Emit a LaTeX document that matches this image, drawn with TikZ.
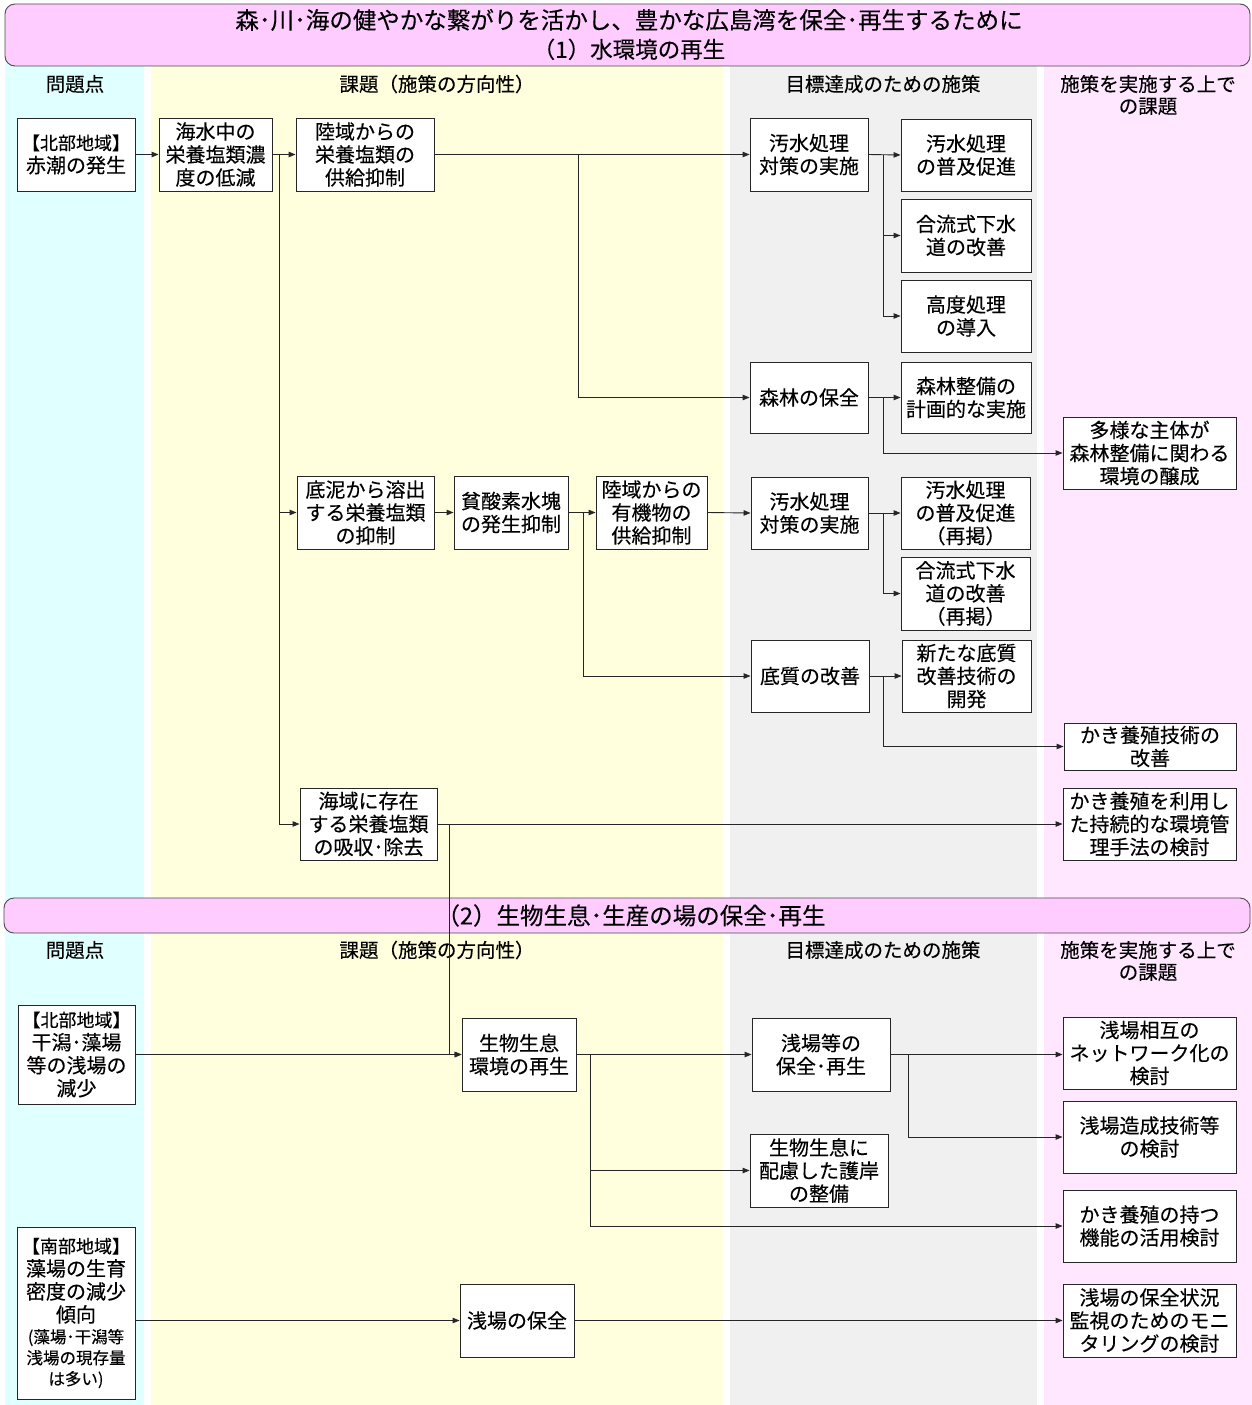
\documentclass[tikz,border=0pt]{standalone}
\usepackage{fontspec}
\setmainfont{Noto Sans CJK JP}[FakeBold=0.25]
\usetikzlibrary{arrows.meta}
\definecolor{colcyan}{HTML}{E0FFFF}
\definecolor{colyellow}{HTML}{FFFFDD}
\definecolor{colgrey}{HTML}{F0F0F0}
\definecolor{colpink}{HTML}{FFE8FF}
\definecolor{bannerpink}{HTML}{FFCCFF}
\newcommand\bx[6]{\node[box, minimum width={#4-#2}, minimum height={#5-#3}] (#1) at ({(#2+#4)/2},{(#3+#5)/2}) {#6};}
\newcommand\brk[1]{{\fontsize{18}{23}\selectfont #1}}
\newcommand\smalltxt[1]{{\fontsize{16.5}{21}\selectfont #1}}
\begin{document}
\begin{tikzpicture}[x=1pt,y=-1pt,
  box/.style={draw=black!85, fill=white, line width=0.9pt, align=center, inner sep=0pt, font=\fontsize{20}{23}\selectfont},
  conn/.style={draw=black!85, line width=0.9pt},
  arr/.style={conn, -{Triangle[length=7pt,width=5.5pt]}},
  hdr/.style={font=\fontsize{19.5}{22}\selectfont, align=center, inner sep=0pt},
  banner/.style={draw=black!70, fill=bannerpink, line width=0.9pt, rounded corners=10pt},
  bannertxt/.style={font=\fontsize{23.5}{29}\selectfont, align=center, inner sep=0pt}]
\useasboundingbox (0,0) rectangle (1252,1405);
% columns
\fill[colcyan] (5,60) rectangle (144,1405);
\fill[colyellow] (151,60) rectangle (723,1405);
\fill[colgrey] (730,60) rectangle (1037,1405);
\fill[colpink] (1044,60) rectangle (1252,1405);
% banners
\draw[banner] (5,4) rectangle (1250,66);
\node[bannertxt] (ban1) at (629,34.5) {森･川･海の健やかな繋がりを活かし、豊かな広島湾を保全･再生するために\\{\fontsize{22.5}{29}\selectfont （1）水環境の再生}};
\draw[banner] (4,898) rectangle (1250,933);
\node[bannertxt] (ban2) at (631,915.5) {（2）生物生息･生産の場の保全･再生};
% headers
\node[hdr] (h1) at (75,84) {問題点};
\node[hdr] (h2) at (437,84) {課題（施策の方向性）};
\node[hdr] (h3) at (883,84) {目標達成のための施策};
\node[hdr] (h4) at (1148,95) {施策を実施する上で\\の課題};
\node[hdr] (h5) at (75,950) {問題点};
\node[hdr] (h6) at (437,950) {課題（施策の方向性）};
\node[hdr] (h7) at (883,950) {目標達成のための施策};
\node[hdr] (h8) at (1148,961) {施策を実施する上で\\の課題};
% boxes part 1
\bx{A}{17}{118}{135}{191}{\brk{【北部地域】}\\赤潮の発生}
\bx{B}{159}{118}{272}{191}{海水中の\\栄養塩類濃\\度の低減}
\bx{C}{296}{118}{434}{191}{陸域からの\\栄養塩類の\\供給抑制}
\bx{D}{750}{118}{868}{191}{汚水処理\\対策の実施}
\bx{E}{901}{119}{1031}{191}{汚水処理\\の普及促進}
\bx{F}{901}{199}{1031}{272}{合流式下水\\道の改善}
\bx{G}{901}{280}{1031}{352}{高度処理\\の導入}
\bx{Fo}{750}{362}{868}{433}{森林の保全}
\bx{H}{901}{362}{1031}{433}{森林整備の\\計画的な実施}
\bx{I}{1063}{417}{1236}{489}{多様な主体が\\森林整備に関わる\\環境の醸成}
\bx{J}{297}{476}{434}{549}{底泥から溶出\\する栄養塩類\\の抑制}
\bx{K}{454}{476}{568}{549}{貧酸素水塊\\の発生抑制}
\bx{L}{596}{476}{707}{549}{陸域からの\\有機物の\\供給抑制}
\bx{D2}{751}{477}{868}{549}{汚水処理\\対策の実施}
\bx{E2}{901}{477}{1030}{549}{汚水処理\\の普及促進\\（再掲）}
\bx{F2}{901}{557}{1030}{630}{合流式下水\\道の改善\\（再掲）}
\bx{N}{751}{640}{869}{712}{底質の改善}
\bx{O}{902}{640}{1031}{712}{新たな底質\\改善技術の\\開発}
\bx{P}{1064}{723}{1236}{770}{かき養殖技術の\\改善}
\bx{M}{300}{788}{437}{860}{海域に存在\\する栄養塩類\\の吸収･除去}
\bx{Q}{1063}{788}{1236}{860}{かき養殖を利用し\\た持続的な環境管\\理手法の検討}
% boxes part 2
\bx{R}{18}{1005}{135}{1104}{\brk{【北部地域】}\\干潟･藻場\\等の浅場の\\減少}
\bx{S}{462}{1018}{576}{1091}{生物生息\\環境の再生}
\bx{V}{752}{1018}{890}{1091}{浅場等の\\保全･再生}
\bx{W}{750}{1134}{888}{1207}{生物生息に\\配慮した護岸\\の整備}
\bx{X}{1063}{1017}{1236}{1089}{浅場相互の\\ネットワーク化の\\検討}
\bx{Y}{1063}{1101}{1236}{1173}{浅場造成技術等\\の検討}
\bx{Z}{1063}{1190}{1236}{1262}{かき養殖の持つ\\機能の活用検討}
\bx{T}{17}{1227}{135}{1399}{\brk{【南部地域】}\\藻場の生育\\密度の減少\\傾向\\[-2pt]\smalltxt{(藻場･干潟等}\\[-2pt]\smalltxt{浅場の現存量}\\[-2pt]\smalltxt{は多い)}}
\bx{U}{460}{1284}{574}{1357}{浅場の保全}
\bx{AA}{1063}{1284}{1236}{1357}{浅場の保全状況\\監視のためのモニ\\タリングの検討}
% connectors part 1
\draw[arr] (A.east) -- (B.west);
\draw[arr] (B.east) -- (C.west);
\coordinate (t1) at (279,154.5);
\draw[arr] (t1) |- (J.west);
\draw[arr] (t1) |- (M.west);
\draw[arr] (C.east) -- (D.west);
\coordinate (t2) at (578,154.5);
\draw[arr] (t2) |- (Fo.west);
\draw[arr] (D.east) -- (E.west);
\coordinate (t3) at (883,154.5);
\draw[arr] (t3) |- (F.west);
\draw[arr] (t3) |- (G.west);
\draw[arr] (Fo.east) -- (H.west);
\coordinate (t4) at (883,397.5);
\draw[arr] (t4) |- (I.west);
\draw[arr] (J.east) -- (K.west);
\draw[arr] (K.east) -- (L.west);
\draw[arr] (L.east) -- (D2.west);
\coordinate (t5) at (583,512.5);
\draw[arr] (t5) |- (N.west);
\draw[arr] (D2.east) -- (E2.west);
\coordinate (t6) at (883,513);
\draw[arr] (t6) |- (F2.west);
\draw[arr] (N.east) -- (O.west);
\coordinate (t7) at (883,676);
\draw[arr] (t7) |- (P.west);
\draw[arr] (M.east) -- (Q.west);
\coordinate (t8) at (449,824);
\draw[arr] (t8) |- (S.west);
% connectors part 2
\draw[arr] (R.east |- S.west) -- (S.west);
\draw[arr] (S.east) -- (V.west);
\coordinate (t9) at (590,1054.5);
\draw[arr] (t9) |- (W.west);
\draw[arr] (t9) |- (Z.west);
\draw[arr] (V.east) -- (V.east -| X.west);
\coordinate (t10) at (908,1054.5);
\draw[arr] (t10) |- (Y.west);
\draw[arr] (T.east |- U.west) -- (U.west);
\draw[arr] (U.east) -- (AA.west);
\end{tikzpicture}
\end{document}
